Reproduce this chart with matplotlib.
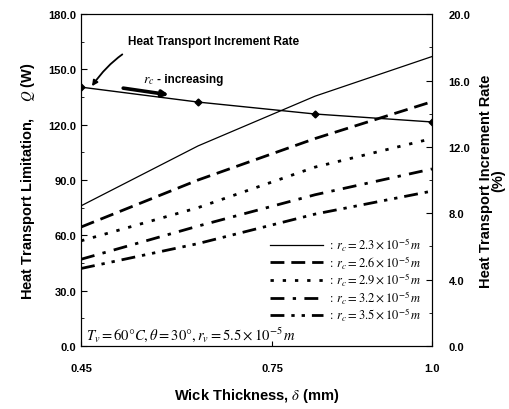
import numpy as np
import matplotlib
matplotlib.use('Agg')
import matplotlib.pyplot as plt
from matplotlib.ticker import MultipleLocator, FixedLocator

plt.rcParams['font.family'] = ['Liberation Sans', 'DejaVu Sans']
plt.rcParams['mathtext.fontset'] = 'stix'

# wick thickness (mm)
delta = [0.45, 0.6333, 0.8167, 1.0]

# heat transport limitation Q (W) for each r_c
q_23 = [76.0, 108.5, 135.5, 157.0]
q_26 = [64.5, 90.0, 112.5, 132.5]
q_29 = [57.0, 75.0, 97.0, 112.5]
q_32 = [47.0, 65.0, 82.0, 96.0]
q_35 = [42.0, 55.5, 71.5, 84.0]
rc_labels = ['2.3', '2.6', '2.9', '3.2', '3.5']

# heat transport increment rate (%)
incr_rate = [15.6, 14.7, 13.98, 13.5]

styles = [
    dict(linestyle='-', lw=0.9),
    dict(linestyle=(0, (5, 2.5)), lw=2.0),
    dict(linestyle=(0, (1.2, 3.2)), lw=2.0),
    dict(linestyle=(0, (5, 3, 1.2, 3)), lw=2.0),
    dict(linestyle=(0, (5, 2.5, 1.2, 2.5, 1.2, 2.5)), lw=2.0),
]

fig = plt.figure(figsize=(5.1, 4.1), dpi=100)
ax = fig.add_axes([0.159, 0.154, 0.688, 0.809])

lines = []
for q, lab, st in zip([q_23, q_26, q_29, q_32, q_35], rc_labels, styles):
    l, = ax.plot(delta, q, color='black', **st,
                 label=r'$:\, r_c = %s\times10^{-5}\,m$' % lab)
    lines.append(l)

ax.set_xlim(0.45, 1.0)
ax.set_ylim(0, 180)
ax.xaxis.set_major_locator(FixedLocator([0.45, 0.75, 1.0]))
ax.set_xticklabels(['0.45', '0.75', '1.0'])
ax.yaxis.set_major_locator(MultipleLocator(30))
ax.yaxis.set_minor_locator(MultipleLocator(15))
ax.yaxis.set_major_formatter(matplotlib.ticker.FormatStrFormatter('%.1f'))
ax.tick_params(axis='both', which='both', direction='in', labelsize=8)
ax.tick_params(axis='x', pad=12)
ax.tick_params(axis='y', which='major', length=4)
ax.tick_params(axis='y', which='minor', length=2)
for t in ax.get_xticklabels() + ax.get_yticklabels():
    t.set_fontweight('bold')

ax.set_xlabel(r'Wick Thickness, $\delta$ (mm)', fontsize=10.5, fontweight='bold', labelpad=10)
ax.set_ylabel(r'Heat Transport Limitation,    $Q$ (W)', fontsize=10.5, fontweight='bold', labelpad=8)

ax2 = ax.twinx()
ax2.plot(delta, incr_rate, color='black', lw=1.0, marker='D', ms=3.5)
ax2.set_ylim(0, 20)
ax2.yaxis.set_major_locator(MultipleLocator(4))
ax2.yaxis.set_minor_locator(MultipleLocator(2))
ax2.yaxis.set_major_formatter(matplotlib.ticker.FormatStrFormatter('%.1f'))
ax2.tick_params(axis='y', which='both', direction='in', labelsize=8, pad=12)
ax2.tick_params(axis='y', which='major', length=4)
ax2.tick_params(axis='y', which='minor', length=2)
for t in ax2.get_yticklabels():
    t.set_fontweight('bold')
ax2.set_ylabel('Heat Transport Increment Rate\n(%)', fontsize=10.5, fontweight='bold',
               rotation=90, labelpad=6, linespacing=0.9)

leg = ax.legend(handles=lines, loc='lower right', bbox_to_anchor=(0.99, 0.045),
                frameon=False, fontsize=9, handlelength=4.2, labelspacing=0.0,
                handletextpad=0.4, borderpad=0.1)

ax.annotate('Heat Transport Increment Rate', xy=(0.031, 0.783), xycoords='axes fraction',
            xytext=(0.134, 0.919), textcoords='axes fraction', fontsize=8.5,
            fontweight='bold', va='center', ha='left',
            arrowprops=dict(arrowstyle='-|>', color='black', lw=1.3,
                            connectionstyle='arc3,rad=0.35',
                            shrinkA=6, shrinkB=0, mutation_scale=8))
ax.text(0.177, 0.804, r'$r_c$', fontsize=10, va='center', ha='left', transform=ax.transAxes)
ax.text(0.215, 0.806, '- increasing', fontsize=8.5, fontweight='bold', va='center', ha='left',
        transform=ax.transAxes)
ax.annotate('', xy=(0.25, 0.757), xycoords='axes fraction',
            xytext=(0.12, 0.777), textcoords='axes fraction',
            arrowprops=dict(arrowstyle='-|>', color='black', lw=2.6, mutation_scale=9,
                            shrinkA=0, shrinkB=0))

ax.text(0.014, 0.008, r'$T_v = 60\degree C, \theta = 30\degree, r_v = 5.5\times10^{-5}\,m$',
        transform=ax.transAxes, fontsize=10.5, va='bottom', ha='left')

fig.savefig('out.png', dpi=100)
